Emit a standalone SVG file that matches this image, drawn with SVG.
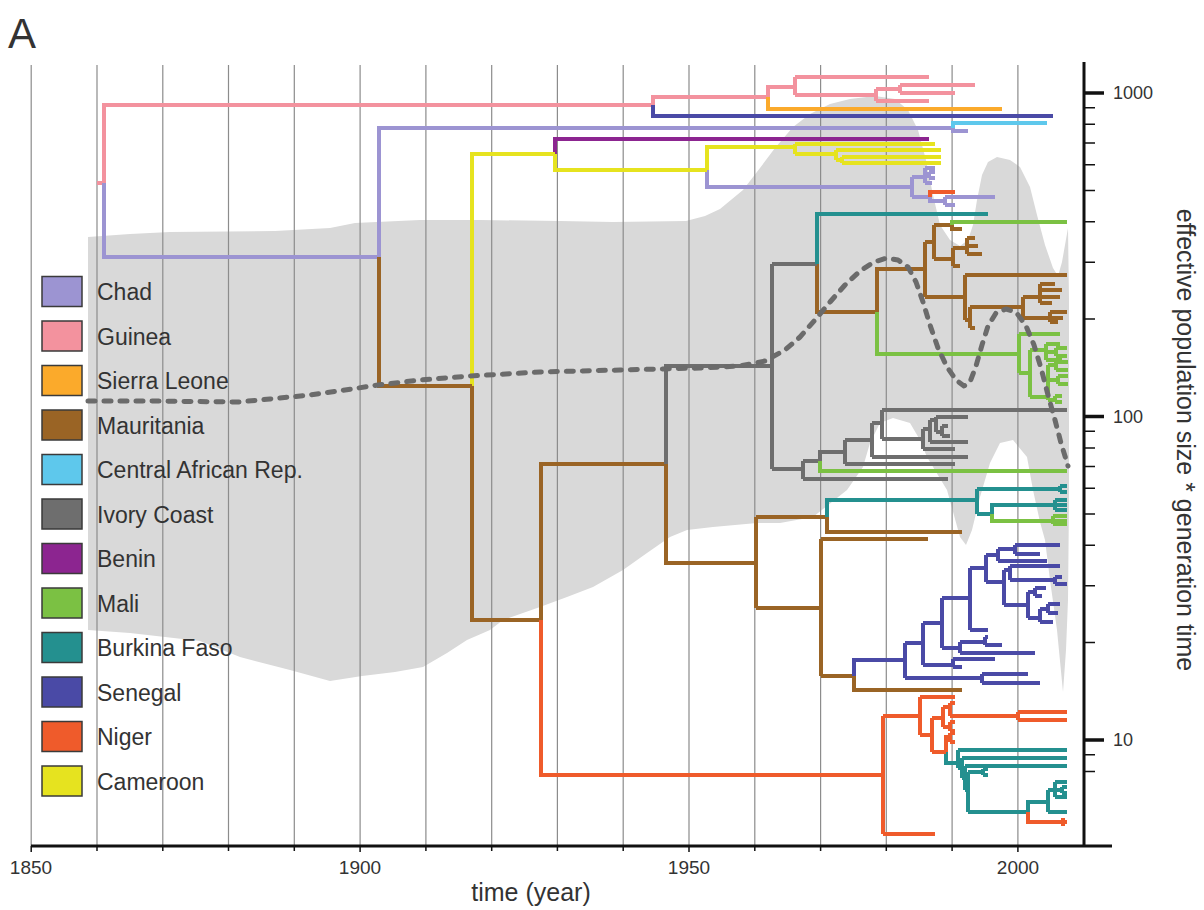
<svg xmlns="http://www.w3.org/2000/svg" width="1204" height="910" viewBox="0 0 1204 910">
<style>
text{font-family:"Liberation Sans",Arial,sans-serif;fill:#333}
.grid{stroke:#8c8c8c;stroke-width:1.2}
.br{fill:none;stroke-width:4;stroke-linejoin:miter}
.chad{stroke:#9c94d2}.gui{stroke:#f3929e}.sl{stroke:#fbaa2b}.mau{stroke:#9a6425}
.car{stroke:#5ec8ec}.ivc{stroke:#6e6e6e}.ben{stroke:#8c2590}.mali{stroke:#7bc143}
.bf{stroke:#24908f}.sen{stroke:#4a4aa6}.nig{stroke:#ef5b2b}.cam{stroke:#e6e31f}
.lg rect{stroke:#3a3a3a;stroke-width:1.5}
.lg text{font-size:23px}
</style>
<rect width="1204" height="910" fill="#fff"/>
<text x="8" y="48" style="font-size:42px">A</text>

<g id="hpd-band">
<path fill="#d9d9d9" d="M88,237 L130,234 L170,232 L275,231 L330,228 L355,223 L420,220 L480,220 L560,221 L613,222 L686,221 L705,216 L720,209 L743,190 L760,168 L775,148 L793,127 L810,114 L830,104 L850,99 L875,96 L895,99 L908,110 L918,130 L926,160 L933,195 L940,225 L950,240 L960,246 L968,240 L973,225 L977,200 L982,175 L988,162 L997,157 L1010,160 L1020,167 L1030,187 L1037,215 L1045,245 L1053,268 L1058,276 L1062,262 L1065,245 L1068,228 L1069,300 L1069,400 L1069,500 L1068,600 L1066,650 L1063,692 L1057,630 L1050,580 L1045,540 L1040,522 L1033,490 L1027,457 L1013,440 L1000,443 L990,463 L980,497 L972,530 L966,545 L960,537 L947,490 L927,457 L920,440 L910,423 L893,418 L880,423 L870,443 L863,467 L847,490 L813,517 L780,523 L757,523 L713,527 L687,530 L670,537 L647,553 L623,570 L593,587 L567,597 L540,607 L503,620 L490,630 L467,640 L447,653 L423,667 L395,672 L362,676 L330,681 L290,670 L240,657 L200,641 L130,633 L88,630 Z"/>
</g>

<g id="grid">
<path class="grid" d="M31.2,65V846 M97,65V846 M162.8,65V846 M228.5,65V846 M294.3,65V846 M360.1,65V846 M425.9,65V846 M491.7,65V846 M557.4,65V846 M623.2,65V846 M689,65V846 M754.8,65V846 M820.6,65V846 M886.3,65V846 M952.1,65V846 M1017.9,65V846"/>
</g>

<g id="connectors">
<path class="br gui" d="M97,183 H104 V105 H653 M653,105 V97 H768 M768,97 V87 H795 M795,77 V95 M795,77 H929 M795,95 H876 M876,89 V101 M876,101 H929 M876,89 H900 M900,85 V93 M900,85 H975 M900,93 H955"/>
<path class="br sl" d="M768,97 V109 H1002"/>
<path class="br chad" d="M104,183 V257 H379 M379,257 V128 H953 M953,128 V131 H968 M707,170 V187 H912 M912,177 V197 M912,177 H925 M925,168 V183 M925,168 H935 M925,183 H932 M925,175 H929 M929,172 V178 M929,172 H935 M929,178 H935 M912,197 H930 M930,197 V201 H945 M945,197 V205 M945,197 H995 M945,205 H955"/>
<path class="br car" d="M953,128 V123 H1047"/>
<path class="br ben" d="M555,154 V139 H929"/>
<path class="br cam" d="M472,386 V154 H555 M555,154 V170 H707 M707,170 V147 H795 M795,144 V154 M795,144 H935 M795,154 H836 M836,150 V160 M836,150 H941 M836,160 H842 M842,157 V163 M842,157 H941 M842,163 H941"/>
<path class="br mau" d="M379,257 V386 H472 M472,386 V620 H541 M541,620 V464 H666 M666,464 V563 H756 M756,517 V608 M756,517 H827 M827,517 V532 H962 M756,608 H821 M821,539 V676 M821,539 H928 M821,676 H854 M854,676 V690 H962 M817,264 V312 H877 M877,312 V269 H925 M925,242 V297 M925,242 H934 M934,225 V259 M934,225 H952 M952,225 V229 H962 M934,259 H953 M953,248 V266 M953,266 H960 M953,248 H967 M967,238 V254 M967,238 H975 M967,246 H978 M967,254 H982 M925,297 H965 M965,275 V320 M965,275 H1067 M965,320 H970 M970,307 V328 M970,328 H975 M970,307 H1023 M1023,297 V318 M1023,297 H1040 M1040,284 V303 M1040,284 H1055 M1040,290 H1062 M1040,297 H1060 M1040,303 H1052 M1023,318 H1050 M1050,312 V322 M1050,312 H1067 M1050,318 H1063 M1050,322 H1058"/>
<path class="br ivc" d="M666,464 V366 H772 M772,264 V469 M772,264 H817 M772,469 H803 M803,461 V479 M803,479 H948 M803,461 H820 M820,461 V452 H845 M845,440 V464 M845,464 H955 M845,440 H872 M872,423 V457 M872,457 H968 M872,423 H882 M882,410 V439 M882,410 H1067 M882,439 H923 M923,429 V449 M923,449 H955 M923,429 H930 M930,420 V442 M930,442 H968 M930,420 H936 M936,417 V432 M936,417 H968 M936,432 H942 M942,426 V436 M942,426 H948 M942,436 H950"/>
<path class="br bf" d="M817,264 V214 H988 M827,517 V500 H977 M977,489 V514 M977,489 H1060 M1060,486 V492 M1060,486 H1067 M1060,492 H1067 M977,514 H992 M992,514 V505 H1055 M1055,500 V510 M1055,500 H1067 M1055,505 H1067 M1055,510 H1067 M946,752 V763 H958 M958,750 V768 M958,750 H1067 M958,768 H962 M962,758 V778 M962,758 H1067 M962,778 H965 M965,766 V790 M965,766 H1067 M965,790 H968 M968,772 V812 M968,772 H983 M983,769 V775 M983,769 H988 M983,775 H988 M968,812 H1028 M1028,812 V802 H1048 M1048,790 V812 M1048,812 H1067 M1048,790 H1055 M1055,782 V797 M1055,782 H1067 M1055,797 H1067 M1055,790 H1062 M1062,787 V793 M1062,787 H1067 M1062,793 H1067"/>
<path class="br mali" d="M877,312 V354 H1019 M952,225 V222 H1067 M1019,334 V373 M1019,334 H1060 M1019,373 H1030 M1030,350 V397 M1030,350 H1046 M1046,344 V360 M1046,344 H1060 M1046,352 H1056 M1056,348 V356 M1056,348 H1067 M1056,356 H1067 M1046,360 H1062 M1030,397 H1048 M1048,365 V400 M1048,365 H1056 M1056,362 V370 M1056,362 H1068 M1056,370 H1068 M1048,380 H1058 M1058,376 V384 M1058,376 H1068 M1058,384 H1068 M1048,400 H1055 M1055,396 V402 M1055,396 H1062 M1055,402 H1062 M820,461 V471 H1067 M992,514 V521 H1053 M1053,516 V524 M1053,516 H1067 M1053,521 H1067 M1053,524 H1067"/>
<path class="br sen" d="M653,105 V116 H1053 M854,676 V660 H905 M905,643 V678 M905,678 H982 M982,674 V683 M982,674 H1028 M982,683 H1040 M905,643 H923 M923,623 V665 M923,665 H953 M953,659 V667 M953,659 H995 M953,667 H962 M923,623 H942 M942,598 V648 M942,648 H960 M960,642 V653 M960,653 H1035 M960,642 H985 M985,637 V645 M985,637 H988 M985,645 H1002 M942,598 H970 M970,568 V630 M970,630 H988 M970,568 H986 M986,555 V582 M986,555 H998 M998,549 V561 M998,561 H1047 M998,549 H1015 M1015,545 V554 M1015,545 H1060 M1015,554 H1040 M986,582 H1004 M1004,570 V605 M1004,570 H1010 M1010,566 V580 M1010,566 H1060 M1010,580 H1055 M1055,577 V584 M1055,577 H1062 M1055,584 H1067 M1004,605 H1028 M1028,592 V618 M1028,592 H1035 M1035,588 V596 M1035,588 H1046 M1035,596 H1042 M1028,618 H1040 M1040,609 V622 M1040,622 H1053 M1040,609 H1048 M1048,604 V613 M1048,604 H1060 M1048,613 H1058"/>
<path class="br nig" d="M541,620 V775 H883 M883,716 V834 M883,834 H935 M883,716 H920 M920,697 V735 M920,697 H955 M920,735 H932 M932,718 V752 M932,718 H943 M932,752 H946 M943,707 V727 M943,707 H950 M950,703 V716 M950,703 H955 M950,716 H1018 M1018,712 V720 M1018,712 H1067 M1018,720 H1067 M943,727 H950 M950,722 V731 M950,722 H955 M950,731 H955 M946,752 V737 H950 M950,733 V742 M950,733 H955 M950,742 H955 M1028,812 V822 H1067 M1063,818 V826 M930,197 V192 H955"/>
</g>

<g id="median">
<path fill="none" stroke="#6b6b6b" stroke-width="5" stroke-linecap="round" stroke-linejoin="round" stroke-dasharray="7 9" d="M88,401 L150,401 L238,402 L270,399 L310,395 L345,390 L378,385 L420,380 L470,376 L540,372 L620,370 L700,368 L740,366 L765,361 L785,350 L800,337 L815,320 L830,302 L845,285 L860,271 L874,262 L887,258 L898,260 L908,267 L916,282 L923,302 L930,325 L938,348 L947,367 L956,380 L964,386 L970,382 L976,366 L982,345 L988,326 L996,313 L1006,309 L1016,312 L1026,326 L1034,345 L1041,368 L1048,395 L1055,420 L1061,443 L1068,466"/>
</g>

<g id="x-axis">
<path stroke="#111" stroke-width="3" d="M31,846 H1112"/>
<path stroke="#111" stroke-width="1.5" d="M31.2,846V852 M97,846V851 M162.8,846V851 M228.5,846V851 M294.3,846V851 M360.1,846V852 M425.9,846V851 M491.7,846V851 M557.4,846V851 M623.2,846V851 M689,846V852 M754.8,846V851 M820.6,846V851 M886.3,846V851 M952.1,846V851 M1017.9,846V852"/>
<text x="31" y="874" text-anchor="middle" style="font-size:19px">1850</text>
<text x="360" y="874" text-anchor="middle" style="font-size:19px">1900</text>
<text x="689" y="874" text-anchor="middle" style="font-size:19px">1950</text>
<text x="1018" y="874" text-anchor="middle" style="font-size:19px">2000</text>
<text x="531" y="901" text-anchor="middle" style="font-size:25px">time (year)</text>
</g>

<g id="y-axis">
<path stroke="#111" stroke-width="3" d="M1084,62 V847"/>
<path stroke="#111" stroke-width="3.5" d="M1084,93 H1104 M1084,416.5 H1104 M1084,740 H1104"/>
<path stroke="#111" stroke-width="1.5" d="M1084,107.8H1095 M1084,124.3H1095 M1084,143.1H1095 M1084,164.8H1095 M1084,190.4H1095 M1084,221.7H1095 M1084,262.2H1095 M1084,319.1H1095 M1084,431.3H1095 M1084,447.9H1095 M1084,466.6H1095 M1084,488.3H1095 M1084,513.9H1095 M1084,545.2H1095 M1084,585.7H1095 M1084,642.6H1095 M1084,754.8H1095 M1084,771.4H1095"/>
<text x="1113" y="99" style="font-size:18px">1000</text>
<text x="1113" y="423" style="font-size:18px">100</text>
<text x="1113" y="746" style="font-size:18px">10</text>
<text transform="translate(1177,440) rotate(90)" text-anchor="middle" style="font-size:25px">effective population size * generation time</text>
</g>

<g id="legend" class="lg">
<g id="lg-chad"><rect x="42" y="276.5" width="40" height="30" fill="#9c94d2"/><text x="97" y="300">Chad</text></g>
<g id="lg-guinea"><rect x="42" y="321" width="40" height="30" fill="#f3929e"/><text x="97" y="344.5">Guinea</text></g>
<g id="lg-sierra-leone"><rect x="42" y="365.5" width="40" height="30" fill="#fbaa2b"/><text x="97" y="389">Sierra Leone</text></g>
<g id="lg-mauritania"><rect x="42" y="410" width="40" height="30" fill="#9a6425"/><text x="97" y="433.5">Mauritania</text></g>
<g id="lg-car"><rect x="42" y="454.5" width="40" height="30" fill="#5ec8ec"/><text x="97" y="478">Central African Rep.</text></g>
<g id="lg-ivory-coast"><rect x="42" y="499" width="40" height="30" fill="#6e6e6e"/><text x="97" y="522.5">Ivory Coast</text></g>
<g id="lg-benin"><rect x="42" y="543.5" width="40" height="30" fill="#8c2590"/><text x="97" y="567">Benin</text></g>
<g id="lg-mali"><rect x="42" y="588" width="40" height="30" fill="#7bc143"/><text x="97" y="611.5">Mali</text></g>
<g id="lg-burkina-faso"><rect x="42" y="632.5" width="40" height="30" fill="#24908f"/><text x="97" y="656">Burkina Faso</text></g>
<g id="lg-senegal"><rect x="42" y="677" width="40" height="30" fill="#4a4aa6"/><text x="97" y="700.5">Senegal</text></g>
<g id="lg-niger"><rect x="42" y="721.5" width="40" height="30" fill="#ef5b2b"/><text x="97" y="745">Niger</text></g>
<g id="lg-cameroon"><rect x="42" y="766" width="40" height="30" fill="#e6e31f"/><text x="97" y="789.5">Cameroon</text></g>
</g>
</svg>
